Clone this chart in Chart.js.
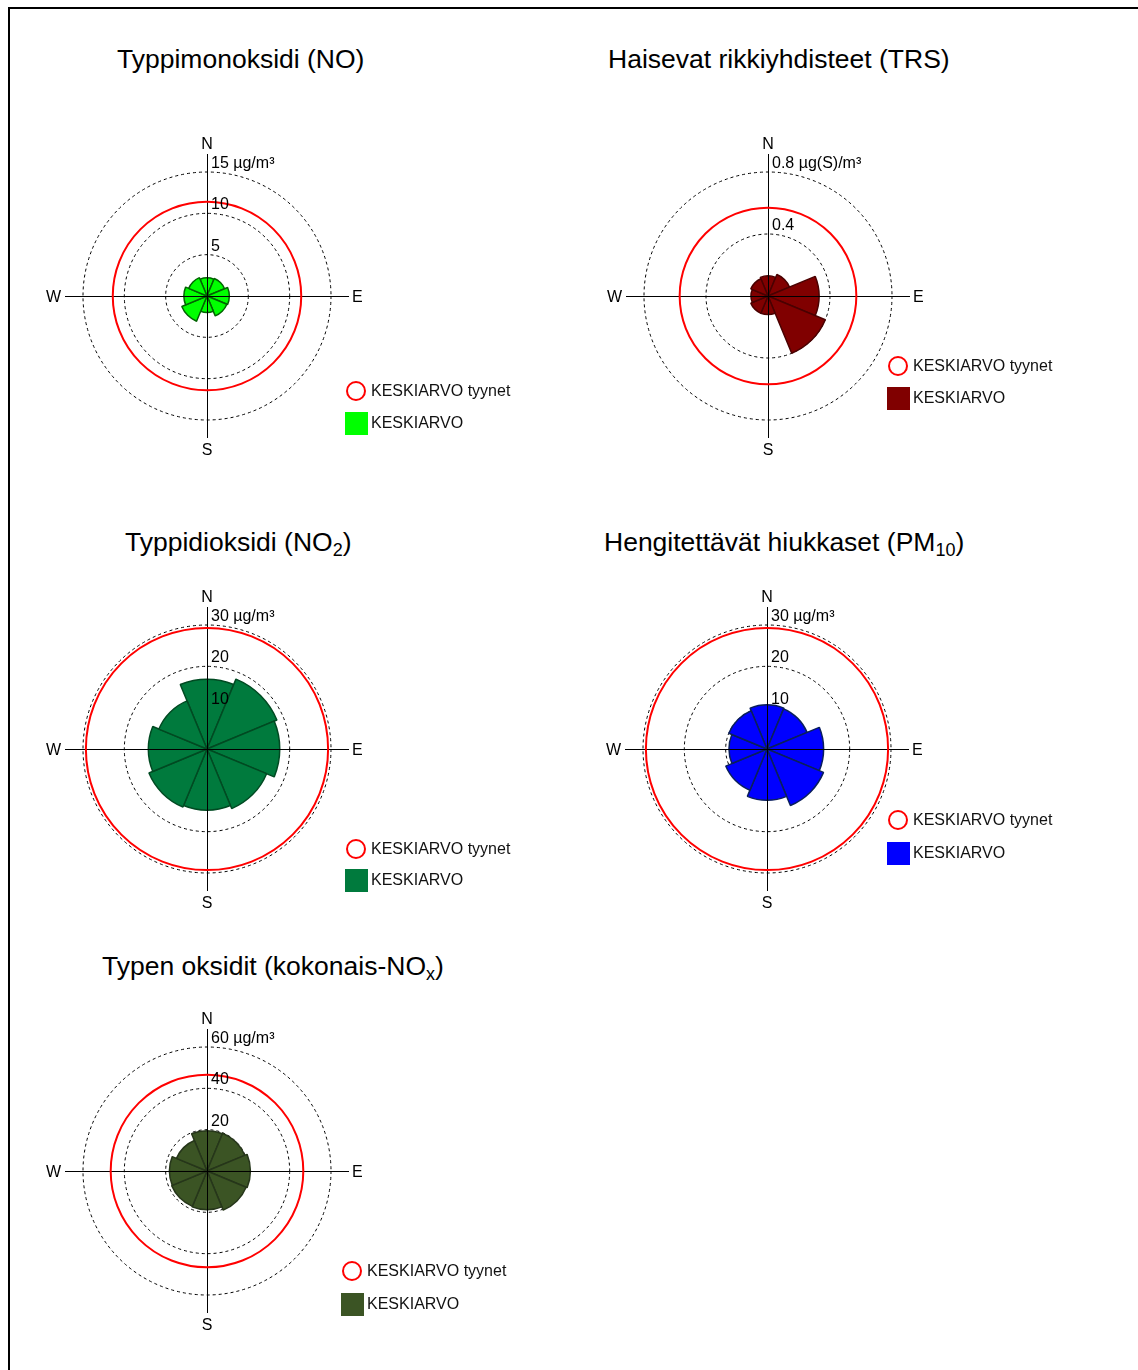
<!DOCTYPE html>
<html>
<head>
<meta charset="utf-8">
<script src="https://cdn.jsdelivr.net/npm/chart.js@4.4.1/dist/chart.umd.min.js"></script>
<style>
  body { margin: 0; background: #fff; font-family: Arial, "Liberation Sans", sans-serif; }
  #page { position: relative; width: 1138px; height: 1370px; overflow: hidden; }
  #frame { position: absolute; left: 8px; top: 7px; width: 1200px; height: 1400px; border-top: 2px solid #000; border-left: 2px solid #000; }
  .title { position: absolute; font-size: 26.5px; line-height: 30px; white-space: nowrap; color: #000; }
  .title sub { font-size: 18px; vertical-align: -5px; line-height: 0; }
  .rose { position: absolute; }
  .leg { position: absolute; font-size: 16px; line-height: 20px; white-space: nowrap; color: #111; }
  .mk { position: absolute; box-sizing: border-box; }
</style>
</head>
<body>
<div id="page">
  <div id="frame"></div>
</div>
<script>
// wind sectors, clockwise from north
const directions = ['N', 'NE', 'E', 'SE', 'S', 'SW', 'W', 'NW'];

const titles = [
  'Typpimonoksidi (NO)',
  'Haisevat rikkiyhdisteet (TRS)',
  'Typpidioksidi (NO<sub>2</sub>)',
  'Hengitettävät hiukkaset (PM<sub>10</sub>)',
  'Typen oksidit (kokonais-NO<sub>x</sub>)'
];

// mean concentration per wind direction
const noValues   = [2.2, 2.3, 2.7, 2.6, 2.0, 3.3, 2.8, 2.4];
const trsValues  = [0.13, 0.15, 0.33, 0.40, 0.12, 0.12, 0.11, 0.12];
const no2Values  = [16.9, 18.3, 17.6, 15.6, 14.8, 15.2, 14.2, 12.6];
const pm10Values = [10.7, 10.5, 13.7, 14.8, 12.4, 10.8, 9.2, 10.0];
const noxValues  = [19.5, 19.8, 21.0, 20.5, 18.8, 18.5, 18.2, 16.0];

// mean during calm (red ring)
const calmMeans = [11.4, 0.57, 29.3, 29.3, 46.6];

const axisMax   = [15, 0.8, 30, 30, 60];
const axisStep  = [5, 0.4, 10, 10, 20];
const axisUnits = ['µg/m³', 'µg(S)/m³', 'µg/m³', 'µg/m³', 'µg/m³'];
const compass   = ['N', 'E', 'S', 'W'];
const legendLabels = ['KESKIARVO tyynet', 'KESKIARVO'];

const seriesValues = [noValues, trsValues, no2Values, pm10Values, noxValues];
const fills   = ['#00ff00', '#800000', '#007a3d', '#0000ff', '#3b5424'];
const borders = ['#006400', '#4a0000', '#004a22', '#0a1f5c', '#26361a'];

// page placement
const places = [
  { cx: 207, cy: 296,  title: [117, 59],  calm: [356, 391],  mean: [356, 423] },
  { cx: 768, cy: 296,  title: [608, 59],  calm: [898, 366],  mean: [898, 398] },
  { cx: 207, cy: 749,  title: [125, 542], calm: [356, 849],  mean: [356, 880] },
  { cx: 767, cy: 749,  title: [604, 542], calm: [898, 820],  mean: [898, 853] },
  { cx: 207, cy: 1171, title: [102, 966], calm: [352, 1271], mean: [352, 1304] }
];

const FONT = '16px Arial, "Liberation Sans", sans-serif';
const SIZE = 340, PAD = 46;

const roseDecor = {
  id: 'roseDecor',
  afterDraw(chart, args, opts) {
    const ctx = chart.ctx;
    const r = chart.scales.r;
    const cx = r.xCenter, cy = r.yCenter, R = r.drawingArea;
    const ext = R + 18;
    ctx.save();
    // cross
    ctx.strokeStyle = '#000';
    ctx.lineWidth = 1;
    ctx.beginPath();
    ctx.moveTo(cx - ext, cy + 0.5); ctx.lineTo(cx + ext, cy + 0.5);
    ctx.moveTo(cx + 0.5, cy - ext); ctx.lineTo(cx + 0.5, cy + ext);
    ctx.stroke();
    // calm ring
    ctx.strokeStyle = '#ff0000';
    ctx.lineWidth = 2;
    ctx.beginPath();
    ctx.arc(cx, cy, r.getDistanceFromCenterForValue(opts.calm), 0, Math.PI * 2);
    ctx.stroke();
    // ring labels
    ctx.fillStyle = '#000';
    ctx.font = FONT;
    ctx.textAlign = 'left';
    ctx.textBaseline = 'alphabetic';
    r.ticks.forEach((t, i) => {
      if (t.value === 0) return;
      const y = cy - r.getDistanceFromCenterForValue(t.value);
      let txt = String(+t.value.toFixed(2));
      if (i === r.ticks.length - 1) txt += ' ' + opts.unit;
      ctx.fillText(txt, cx + 4, y - 4);
    });
    // compass
    ctx.textAlign = 'center';
    ctx.fillText(compass[0], cx, cy - ext - 5);
    ctx.fillText(compass[2], cx, cy + ext + 17);
    ctx.textAlign = 'left';
    ctx.fillText(compass[1], cx + ext + 3, cy + 6);
    ctx.textAlign = 'right';
    ctx.fillText(compass[3], cx - ext - 4, cy + 6);
    ctx.restore();
  }
};

const page = document.getElementById('page');

places.forEach((p, i) => {
  const t = document.createElement('div');
  t.className = 'title';
  t.innerHTML = titles[i];
  t.style.left = p.title[0] + 'px';
  t.style.top = (p.title[1] - 15) + 'px';
  page.appendChild(t);

  const canvas = document.createElement('canvas');
  canvas.className = 'rose';
  canvas.width = SIZE; canvas.height = SIZE;
  canvas.style.left = (p.cx - SIZE / 2) + 'px';
  canvas.style.top = (p.cy - SIZE / 2) + 'px';
  page.appendChild(canvas);

  new Chart(canvas, {
    type: 'polarArea',
    data: {
      labels: directions,
      datasets: [{
        data: seriesValues[i],
        backgroundColor: fills[i],
        borderColor: borders[i],
        borderWidth: 1.5
      }]
    },
    options: {
      responsive: false,
      animation: false,
      layout: { padding: PAD },
      plugins: {
        legend: { display: false },
        tooltip: { enabled: false },
        roseDecor: { calm: calmMeans[i], unit: axisUnits[i] }
      },
      scales: {
        r: {
          min: 0,
          max: axisMax[i],
          startAngle: -22.5,
          z: 1,
          ticks: { display: false, stepSize: axisStep[i] },
          grid: { circular: true, color: '#000', lineWidth: 1 },
          border: { dash: [3, 3] },
          angleLines: { display: false },
          pointLabels: { display: false }
        }
      }
    },
    plugins: [roseDecor]
  });

  // legend
  const c = document.createElement('div');
  c.className = 'mk';
  c.style.cssText = `left:${p.calm[0] - 10}px;top:${p.calm[1] - 10}px;width:20px;height:20px;border:2px solid #ff0000;border-radius:50%;`;
  page.appendChild(c);
  const m = document.createElement('div');
  m.className = 'mk';
  m.style.cssText = `left:${p.mean[0] - 11}px;top:${p.mean[1] - 11}px;width:23px;height:23px;background:${fills[i]};`;
  page.appendChild(m);
  [[p.calm, legendLabels[0]], [p.mean, legendLabels[1]]].forEach(([pos, txt]) => {
    const l = document.createElement('div');
    l.className = 'leg';
    l.textContent = txt;
    l.style.left = (pos[0] + 15) + 'px';
    l.style.top = (pos[1] - 10) + 'px';
    page.appendChild(l);
  });
});
</script>
</body>
</html>
